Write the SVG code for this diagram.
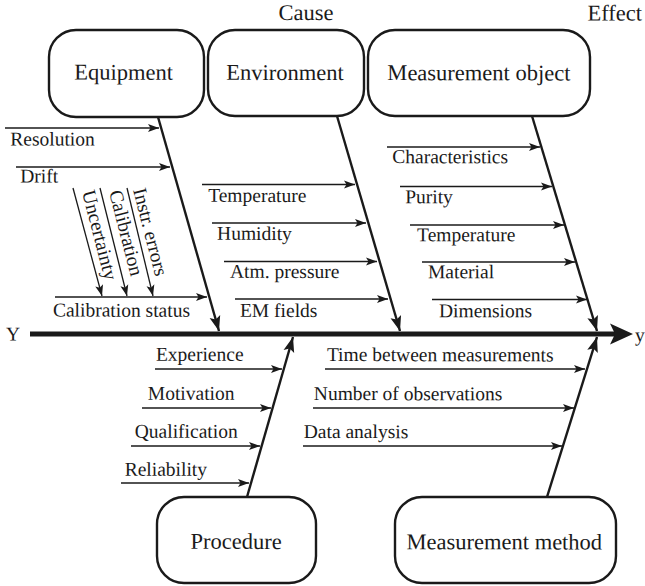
<svg xmlns="http://www.w3.org/2000/svg" width="645" height="586" viewBox="0 0 645 586">
<style>
  .n { font-family: 'Liberation Serif', serif; font-size: 22.5px; fill: #1a1a1a; }
  .s { font-family: 'Liberation Serif', serif; font-size: 19.5px; fill: #1a1a1a; }
  .box { fill: #fff; stroke: #1a1a1a; stroke-width: 2.4; }
  .sub { stroke: #1a1a1a; stroke-width: 1.3; fill: none; marker-end: url(#a); }
  .bone { stroke: #1a1a1a; stroke-width: 2.4; fill: none; marker-end: url(#b); }
</style>
<defs>
  <marker id="a" markerUnits="userSpaceOnUse" markerWidth="12" markerHeight="9" refX="11" refY="4" orient="auto" overflow="visible">
    <path d="M0,0 L11,4 L0,8 L2.5,4 z" fill="#1a1a1a"/>
  </marker>
  <marker id="b" markerUnits="userSpaceOnUse" markerWidth="16" markerHeight="12" refX="15" refY="5.5" orient="auto" overflow="visible">
    <path d="M0,0 L15,5.5 L0,11 L3,5.5 z" fill="#1a1a1a"/>
  </marker>
</defs>
<rect width="645" height="586" fill="#fff"/>

<g transform="rotate(0.1 322 293)">
  <text class="n" font-family="Liberation Serif" x="278" y="20">Cause</text>
  <text class="n" font-family="Liberation Serif" x="587" y="20">Effect</text>
</g>

<g id="spine">
  <line x1="30" y1="334" x2="616" y2="334" stroke="#1a1a1a" stroke-width="5"/>
  <path d="M633,334 L610,323.5 L615,334 L610,344.5 z" fill="#1a1a1a"/>
  <g transform="rotate(0.1 322 293)">
    <text class="s" font-family="Liberation Serif" x="6" y="341">Y</text>
    <text class="s" font-family="Liberation Serif" x="635" y="341">y</text>
  </g>
</g>

<g id="connectors">
  <line class="bone" x1="158" y1="117" x2="219" y2="331"/>
  <line class="bone" x1="337" y1="116" x2="400" y2="331"/>
  <line class="bone" x1="532" y1="116" x2="597" y2="331"/>
  <line class="bone" x1="247" y1="497" x2="293" y2="337"/>
  <line class="bone" x1="547" y1="497" x2="597" y2="337"/>

  <line class="sub" x1="5" y1="128" x2="159" y2="128"/>
  <line class="sub" x1="16" y1="167" x2="170" y2="167"/>
  <line class="sub" x1="55" y1="297" x2="207" y2="297"/>
  <line class="sub" x1="73" y1="188" x2="102" y2="296"/>
  <line class="sub" x1="100" y1="188" x2="127" y2="296"/>
  <line class="sub" x1="127" y1="188" x2="153" y2="296"/>

  <line class="sub" x1="202" y1="184.5" x2="355" y2="184.5"/>
  <line class="sub" x1="212" y1="223" x2="366" y2="223"/>
  <line class="sub" x1="224" y1="261.5" x2="377" y2="261.5"/>
  <line class="sub" x1="235" y1="299" x2="388" y2="299"/>

  <line class="sub" x1="387" y1="147" x2="540" y2="147"/>
  <line class="sub" x1="400" y1="186.5" x2="552" y2="186.5"/>
  <line class="sub" x1="410" y1="225" x2="564" y2="225"/>
  <line class="sub" x1="422" y1="262" x2="575" y2="262"/>
  <line class="sub" x1="432" y1="299.5" x2="587" y2="299.5"/>

  <line class="sub" x1="155" y1="369" x2="282" y2="369"/>
  <line class="sub" x1="142" y1="408" x2="271" y2="408"/>
  <line class="sub" x1="131" y1="446" x2="260" y2="446"/>
  <line class="sub" x1="121" y1="483" x2="249" y2="483"/>

  <line class="sub" x1="325" y1="369" x2="585" y2="369"/>
  <line class="sub" x1="313" y1="408" x2="574" y2="408"/>
  <line class="sub" x1="303" y1="446" x2="562" y2="446"/>
</g>

<g id="labels" font-family="Liberation Serif">
  <text class="s" transform="translate(82,192) rotate(75.5)">Uncertainty</text>
  <text class="s" transform="translate(109,192) rotate(75.5)">Calibration</text>
  <text class="s" transform="translate(133,190) rotate(75.5)">Instr. errors</text>
  <g transform="rotate(0.1 322 293)">
    <text class="s" x="10" y="146">Resolution</text>
    <text class="s" x="20" y="183">Drift</text>
    <text class="s" x="53" y="317">Calibration status</text>

    <text class="s" x="208" y="202">Temperature</text>
    <text class="s" x="217" y="240">Humidity</text>
    <text class="s" x="230" y="278">Atm. pressure</text>
    <text class="s" x="240" y="317">EM fields</text>

    <text class="s" x="392" y="163">Characteristics</text>
    <text class="s" x="405" y="203">Purity</text>
    <text class="s" x="417" y="241">Temperature</text>
    <text class="s" x="428" y="278">Material</text>
    <text class="s" x="439" y="317">Dimensions</text>

    <text class="s" x="156" y="361">Experience</text>
    <text class="s" x="148" y="400">Motivation</text>
    <text class="s" x="135" y="438">Qualification</text>
    <text class="s" x="125" y="476">Reliability</text>

    <text class="s" x="327" y="361">Time between measurements</text>
    <text class="s" x="314" y="400">Number of observations</text>
    <text class="s" x="304" y="438">Data analysis</text>
  </g>
</g>

<g id="equipment">
  <rect class="box" x="49" y="30" width="155" height="87" rx="27"/>
  <text class="n" font-family="Liberation Serif" transform="rotate(0.1 322 293)" x="74" y="80">Equipment</text>
</g>
<g id="environment">
  <rect class="box" x="208" y="30" width="156" height="86" rx="27"/>
  <text class="n" font-family="Liberation Serif" transform="rotate(0.1 322 293)" x="226" y="80">Environment</text>
</g>
<g id="measurement-object">
  <rect class="box" x="368" y="30" width="222" height="86" rx="27"/>
  <text class="n" font-family="Liberation Serif" transform="rotate(0.1 322 293)" x="387" y="80">Measurement object</text>
</g>
<g id="procedure">
  <rect class="box" x="157" y="497" width="159" height="86" rx="27"/>
  <text class="n" font-family="Liberation Serif" transform="rotate(0.1 322 293)" x="191" y="549">Procedure</text>
</g>
<g id="measurement-method">
  <rect class="box" x="395" y="497" width="221" height="86" rx="27"/>
  <text class="n" font-family="Liberation Serif" transform="rotate(0.1 322 293)" x="407" y="549">Measurement method</text>
</g>
</svg>
